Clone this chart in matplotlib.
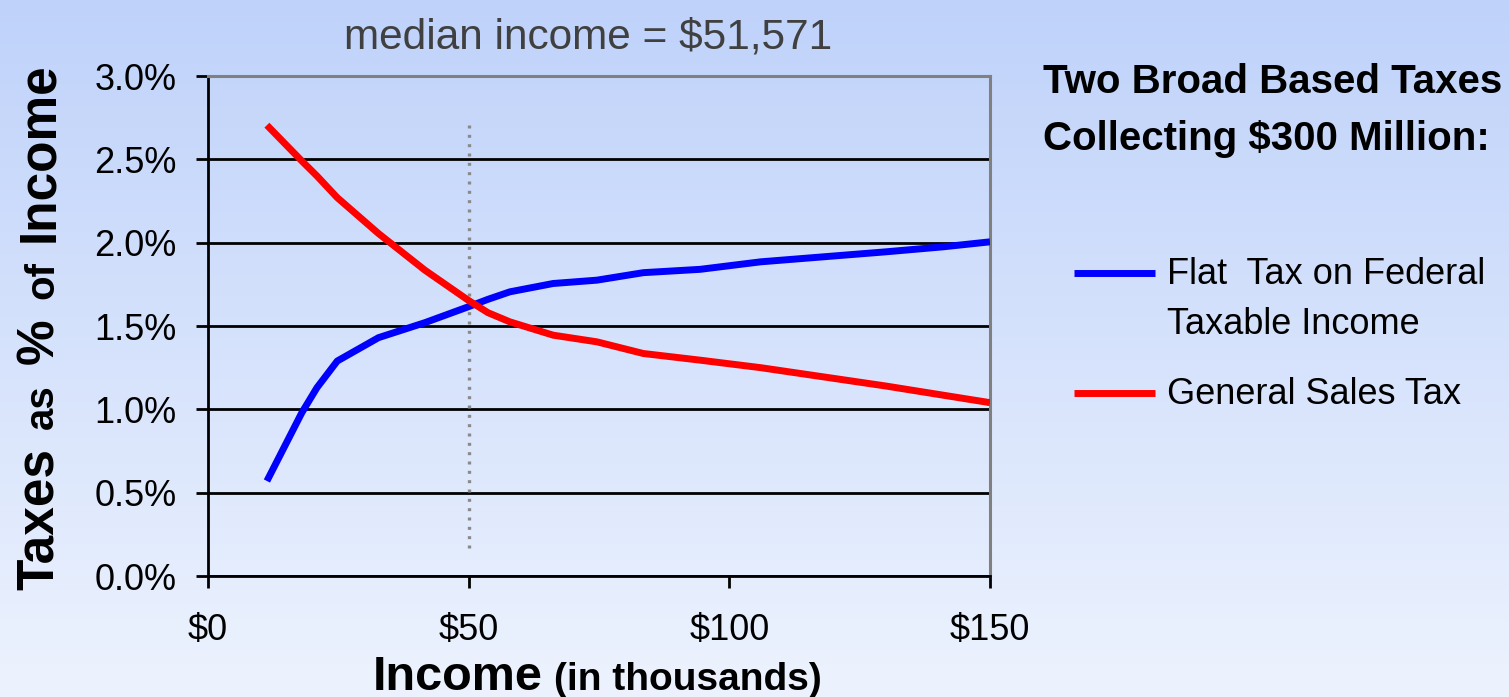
import matplotlib
matplotlib.use("Agg")
import matplotlib.pyplot as plt
import numpy as np
from matplotlib.lines import Line2D

plt.rcParams["font.family"] = ["Liberation Sans", "DejaVu Sans"]

# Income in thousands of dollars
income = [11.3, 18.0, 20.9, 24.8, 32.7, 41.6, 49.9, 53.7, 57.9, 66.2, 74.6,
          83.5, 94.4, 106, 118, 130, 141, 150]
# Taxes as percent of income
flat_tax = [0.57, 0.98, 1.13, 1.29, 1.43, 1.52, 1.615, 1.66, 1.705, 1.755, 1.775,
            1.82, 1.84, 1.885, 1.915, 1.945, 1.975, 2.005]
sales_tax = [2.705, 2.49, 2.40, 2.27, 2.055, 1.835, 1.655, 1.58, 1.525, 1.445, 1.405,
             1.335, 1.295, 1.25, 1.195, 1.14, 1.085, 1.04]

median_marker = 50
median_span = [0.17, 2.72]
series_labels = ["Flat  Tax on Federal\nTaxable Income", "General Sales Tax"]
y_ticks = [0.0, 0.5, 1.0, 1.5, 2.0, 2.5, 3.0]
x_ticks = [0, 50, 100, 150]

W, H = 1509, 697
fig = plt.figure(figsize=(W / 100, H / 100), dpi=100)

# fondo degradado
bg = fig.add_axes([0, 0, 1, 1], zorder=-1)
top = np.array([191, 210, 250]) / 255
bottom = np.array([237, 243, 254]) / 255
t = np.linspace(0, 1, 256)[:, None]
grad = top + (bottom - top) * t
bg.imshow(grad[:, None, :], aspect="auto", extent=[0, 1, 0, 1])
bg.axis("off")

ax = fig.add_axes([208 / W, 121 / H, 782 / W, 500 / H])
ax.set_facecolor("none")

ax.plot(income, flat_tax, color="#0000ff", lw=5, solid_capstyle="butt", zorder=4)
ax.plot(income, sales_tax, color="#ff0000", lw=5, solid_capstyle="butt", zorder=4)
ax.vlines(median_marker, median_span[0], median_span[1], colors="#8a8a8a",
          linestyles=(0, (0.9, 1.9)), lw=2.4, zorder=3)

ax.set_xlim(0, 150)
ax.set_ylim(0, 3.0)
ax.set_yticks(y_ticks)
ax.set_yticklabels([f"{v:.1f}%" for v in y_ticks])
ax.set_xticks(x_ticks)
ax.set_xticklabels([f"${v}" for v in x_ticks])
ax.tick_params(axis="both", direction="out", length=8.5, width=2, colors="black",
               labelsize=26)
ax.tick_params(axis="y", pad=14)
ax.tick_params(axis="x", pad=18)
ax.grid(axis="y", color="black", lw=2)
ax.grid(axis="x", visible=False)
ax.set_axisbelow(True)

for side in ["left", "bottom"]:
    ax.spines[side].set_color("black")
    ax.spines[side].set_linewidth(2)
for side in ["top", "right"]:
    ax.spines[side].set_color("#808080")
    ax.spines[side].set_linewidth(2.2)

fig.text(588 / W, 649 / H, "median income = $51,571", ha="center", va="baseline",
         fontsize=30.5, color="#404040")

# titulo del eje y con palabras de distinto tamaño
ylab = [("Taxes", 37), ("as", 29), ("%", 37), ("of", 29), ("Income", 37)]
prev = fig.text(53 / W, 107 / H, ylab[0][0], rotation=90, rotation_mode="anchor",
                ha="left", va="baseline", fontsize=ylab[0][1], fontweight="bold")
for word, size in ylab[1:]:
    prev = ax.annotate(word, xy=(53, 1.0), xycoords=("figure pixels", prev),
                       xytext=(0, 14), textcoords="offset points", rotation=90,
                       rotation_mode="anchor", ha="left", va="baseline",
                       fontsize=size, fontweight="bold", annotation_clip=False)

# titulo del eje x
xl = fig.text(373 / W, 7 / H, "Income", ha="left", va="baseline",
              fontsize=35, fontweight="bold")
ax.annotate("(in thousands)", xy=(1.0, 7), xycoords=(xl, "figure pixels"),
            xytext=(8, 0), textcoords="offset points", ha="left", va="baseline",
            fontsize=28, fontweight="bold", annotation_clip=False)

# encabezado y leyenda a la derecha
fig.text(1043 / W, 604 / H, "Two Broad Based Taxes", ha="left", va="baseline",
         fontsize=29, fontweight="bold")
fig.text(1043 / W, 547 / H, "Collecting $300 Million:", ha="left", va="baseline",
         fontsize=29, fontweight="bold")

legend_colors = ["#0000ff", "#ff0000"]
legend_y = [424, 304]
for label, color, yy in zip(series_labels, legend_colors, legend_y):
    fig.add_artist(Line2D([1074 / W, 1155 / W], [yy / H, yy / H], color=color, lw=5,
                          solid_capstyle="butt", transform=fig.transFigure))
    lines = label.split("\n")
    for i, line in enumerate(lines):
        fig.text(1167 / W, (yy - 11 - 50 * i) / H, line, ha="left", va="baseline",
                 fontsize=26)

fig.savefig("out.png", dpi=100)
